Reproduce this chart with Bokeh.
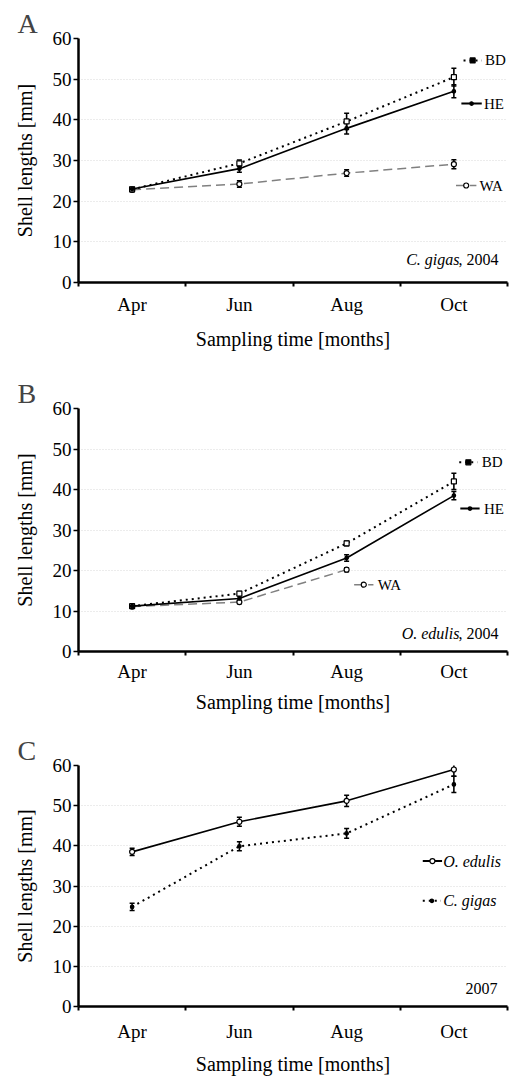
import numpy as np
from bokeh.plotting import figure
from bokeh.layouts import column
from bokeh.models import FixedTicker, Whisker, ColumnDataSource, Range1d, TeeHead
from bokeh.core.properties import value
from bokeh.embed import file_html
from bokeh.resources import INLINE

# ---------------- data ----------------
months = ["Apr", "Jun", "Aug", "Oct"]
y_ticks = [0, 10, 20, 30, 40, 50, 60]

# Panel A: C. gigas, 2004
gigas04_bd = [22.9, 29.3, 39.6, 50.5]
gigas04_bd_err = [0.5, 0.8, 2.0, 2.2]
gigas04_he = [23.0, 28.0, 37.9, 47.0]
gigas04_he_err = [0.4, 0.9, 1.4, 1.6]
gigas04_wa = [22.8, 24.2, 26.9, 29.1]
gigas04_wa_err = [0.4, 0.8, 0.8, 1.1]

# Panel B: O. edulis, 2004 (WA has no October sample)
edulis04_bd = [11.2, 14.3, 26.7, 42.0]
edulis04_bd_err = [0.3, 0.5, 0.6, 2.0]
edulis04_he = [11.2, 13.1, 23.1, 38.5]
edulis04_he_err = [0.3, 0.7, 0.8, 1.0]
edulis04_wa = [11.1, 12.2, 20.2]
edulis04_wa_err = [0.3, 0.4, 0.5]

# Panel C: 2007
edulis07 = [38.5, 46.0, 51.2, 59.0]
edulis07_err = [0.9, 1.1, 1.4, 1.7]
gigas07 = [24.8, 39.9, 43.1, 55.3]
gigas07_err = [0.9, 1.1, 1.2, 2.0]

SERIF = "Liberation Serif"
month_pos = [i + 0.5 for i in range(len(months))]


def make_fig(letter, frame_h, top, bottom, lab_standoff, tick_standoff):
    p = figure(frame_width=429, frame_height=frame_h,
               x_range=Range1d(0, 4), y_range=Range1d(0, 60),
               output_backend="svg", toolbar_location=None,
               min_border_left=78, min_border_right=4,
               min_border_top=top, min_border_bottom=bottom,
               title=letter)
    p.title.text_font = SERIF
    p.title.text_font_size = "28px"
    p.title.text_font_style = "normal"
    p.title.align = "left"
    p.title.offset = -61
    p.title.standoff = 0
    p.outline_line_color = None
    p.background_fill_color = "white"
    p.border_fill_color = "white"
    p.xgrid.visible = False
    p.ygrid.grid_line_color = "#d8d8d8"
    p.ygrid.grid_line_dash = "1 2"
    p.ygrid.grid_line_width = 1

    xa = p.xaxis[0]
    xa.ticker = FixedTicker(ticks=month_pos, minor_ticks=[0, 1, 2, 3, 4])
    xa.major_label_overrides = {pos: m for pos, m in zip(month_pos, months)}
    xa.major_tick_out = 0
    xa.major_tick_in = 0
    xa.minor_tick_out = 4
    xa.minor_tick_in = 0
    xa.minor_tick_line_width = 2
    xa.minor_tick_line_color = "black"
    xa.axis_line_width = 2.5
    xa.axis_line_color = "black"
    xa.major_label_text_font = SERIF
    xa.major_label_text_font_size = "19px"
    xa.major_label_text_color = "black"
    xa.major_label_standoff = tick_standoff
    xa.axis_label = "Sampling time [months]"
    xa.axis_label_text_font = SERIF
    xa.axis_label_text_font_style = "normal"
    xa.axis_label_text_font_size = "20px"
    xa.axis_label_text_color = "black"
    xa.axis_label_standoff = lab_standoff

    ya = p.yaxis[0]
    ya.ticker = FixedTicker(ticks=y_ticks, minor_ticks=[])
    ya.major_tick_out = 5
    ya.major_tick_in = 0
    ya.major_tick_line_width = 1.5
    ya.major_tick_line_color = "black"
    ya.axis_line_width = 2.5
    ya.axis_line_color = "black"
    ya.major_label_text_font = SERIF
    ya.major_label_text_font_size = "19px"
    ya.major_label_text_color = "black"
    ya.major_label_standoff = 2
    ya.axis_label = "Shell lengths [mm]"
    ya.axis_label_text_font = SERIF
    ya.axis_label_text_font_style = "normal"
    ya.axis_label_text_font_size = "20px"
    ya.axis_label_text_color = "black"
    ya.axis_label_standoff = 14
    return p


def series(p, vals, errs, color, dash, width, marker, fill, msize):
    xs = month_pos[:len(vals)]
    src = ColumnDataSource(dict(x=xs, y=vals,
                                lower=[v - e for v, e in zip(vals, errs)],
                                upper=[v + e for v, e in zip(vals, errs)]))
    p.line("x", "y", source=src, line_color=color, line_dash=dash, line_width=width)
    w = Whisker(source=src, base="x", upper="upper", lower="lower",
                line_color="black", line_width=1.6,
                upper_head=TeeHead(size=5, line_width=1.5, line_color="black"),
                lower_head=TeeHead(size=5, line_width=1.5, line_color="black"))
    p.add_layout(w)
    p.scatter("x", "y", source=src, marker=marker, size=msize,
              line_color="black", fill_color=fill, line_width=1.2)


def legend_item(p, x0, x1, y, xt, label, color, dash, width, marker, fill, msize, italic=False):
    p.segment(x0=[x0], y0=[y], x1=[x1], y1=[y], line_color=color, line_dash=dash, line_width=width)
    p.scatter(x=[(x0 + x1) / 2], y=[y], marker=marker, size=msize,
              line_color="black", fill_color=fill, line_width=1.2)
    p.text(x=[xt], y=[y], text=[label], text_font=value(SERIF), text_font_size="15px" if not italic else "16px",
           text_font_style="italic" if italic else "normal",
           text_baseline="middle", text_align="left", text_color="black")


def note(p, x, y, italic_part, plain_part, shift):
    p.text(x=[x], y=[y], text=[plain_part], text_font=value(SERIF), text_font_size="16px",
           text_baseline="middle", text_align="right", text_color="black")
    if italic_part:
        p.text(x=[x], y=[y], text=[italic_part], text_font=value(SERIF), text_font_size="16px",
               text_font_style="italic", x_offset=-shift,
               text_baseline="middle", text_align="right", text_color="black")


DOT = "2 4"
DASH = "9 5"
GRAY = "#808080"

# ---- Panel A ----
pA = make_fig("A", 244, 38, 82, 10, 7)
series(pA, gigas04_wa, gigas04_wa_err, GRAY, DASH, 1.5, "circle", "white", 5)
series(pA, gigas04_bd, gigas04_bd_err, "black", DOT, 2, "square", "white", 5)
series(pA, gigas04_he, gigas04_he_err, "black", "solid", 1.6, "circle", "black", 3.5)
legend_item(pA, 3.59, 3.76, 54.6, 3.79, "BD", "black", DOT, 2, "square", "black", 5)
legend_item(pA, 3.57, 3.76, 44.0, 3.78, "HE", "black", "solid", 2, "circle", "black", 3.5)
legend_item(pA, 3.52, 3.71, 23.85, 3.74, "WA", GRAY, DASH, 1.5, "circle", "white", 5)
note(pA, 3.916, 5.6, "C. gigas", ", 2004", 39)

# ---- Panel B ----
pB = make_fig("B", 243, 44, 70, 6, 5)
series(pB, edulis04_wa, edulis04_wa_err, GRAY, DASH, 1.5, "circle", "white", 5)
series(pB, edulis04_bd, edulis04_bd_err, "black", DOT, 2, "square", "white", 5)
series(pB, edulis04_he, edulis04_he_err, "black", "solid", 1.6, "circle", "black", 3.5)
legend_item(pB, 3.55, 3.72, 46.7, 3.76, "BD", "black", DOT, 2, "square", "black", 5)
legend_item(pB, 3.56, 3.74, 35.3, 3.78, "HE", "black", "solid", 2, "circle", "black", 3.5)
legend_item(pB, 2.57, 2.75, 16.5, 2.79, "WA", GRAY, DASH, 1.5, "circle", "white", 5)
note(pB, 3.916, 4.5, "O. edulis", ", 2004", 39)

# ---- Panel C ----
pC = make_fig("C", 241, 44, 62, 8, 10)
series(pC, gigas07, gigas07_err, "black", DOT, 2, "circle", "black", 3.5)
series(pC, edulis07, edulis07_err, "black", "solid", 1.6, "circle", "white", 5)
legend_item(pC, 3.21, 3.39, 36.2, 3.40, "O. edulis", "black", "solid", 2, "circle", "white", 5, italic=True)
legend_item(pC, 3.21, 3.38, 26.3, 3.40, "C. gigas", "black", DOT, 2, "circle", "black", 3.5, italic=True)
note(pC, 3.907, 4.5, None, "2007", 0)

layout = column(pA, pB, pC, spacing=0)
open("out.html", "w").write(file_html(layout, INLINE))
